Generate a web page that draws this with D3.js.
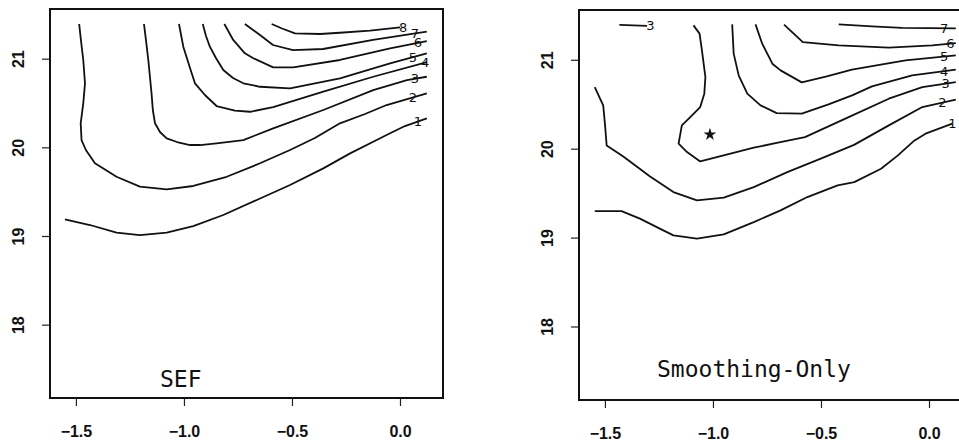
<!DOCTYPE html>
<html>
<head>
<meta charset="utf-8">
<script src="https://cdn.jsdelivr.net/npm/d3@7"></script>
<style>
  body { margin: 0; background: #fff; }
  .tick text { font-family: "Liberation Sans", Arial, sans-serif; font-weight: bold; font-size: 16px; fill: #111; }
  .lvl { font-family: "DejaVu Sans", sans-serif; font-size: 13px; fill: #111; }
  .title { font-family: "DejaVu Sans Mono", monospace; font-size: 23px; fill: #111; }
</style>
</head>
<body>
<svg id="chart" width="959" height="444"></svg>
<script>
// axis ticks
const xTicks = [-1.5, -1.0, -0.5, 0.0];
const yTicks = [18, 19, 20, 21];

// SEF panel, contour levels 1..8 ([x, y] points)
const sef1 = [[-1.551,19.188],[-1.435,19.124],[-1.312,19.037],[-1.204,19.011],[-1.080,19.037],[-0.957,19.112],[-0.818,19.237],[-0.663,19.406],[-0.509,19.575],[-0.355,19.763],[-0.231,19.932],[-0.108,20.082],[-0.046,20.158],[0.023,20.240],[0.124,20.327]];
const sef2 = [[-1.485,21.391],[-1.477,21.211],[-1.466,20.985],[-1.458,20.722],[-1.466,20.496],[-1.478,20.271],[-1.474,20.082],[-1.454,19.970],[-1.412,19.820],[-1.312,19.668],[-1.204,19.556],[-1.080,19.526],[-0.957,19.564],[-0.802,19.668],[-0.648,19.820],[-0.509,19.970],[-0.394,20.105],[-0.278,20.271],[-0.162,20.376],[-0.062,20.477],[0.124,20.609]];
const sef3 = [[-1.185,21.391],[-1.176,21.211],[-1.165,20.985],[-1.150,20.609],[-1.144,20.421],[-1.134,20.271],[-1.111,20.173],[-1.080,20.101],[-1.032,20.060],[-0.972,20.026],[-0.926,20.026],[-0.849,20.045],[-0.725,20.082],[-0.587,20.214],[-0.355,20.421],[-0.124,20.646],[0.032,20.759],[0.124,20.796]];
const sef4 = [[-1.023,21.391],[-1.003,21.135],[-0.972,20.894],[-0.949,20.722],[-0.903,20.590],[-0.849,20.466],[-0.764,20.415],[-0.694,20.401],[-0.587,20.454],[-0.355,20.627],[-0.124,20.796],[0.125,20.962]];
const sef5 = [[-0.913,21.391],[-0.898,21.255],[-0.880,21.135],[-0.852,21.007],[-0.818,20.872],[-0.773,20.782],[-0.725,20.722],[-0.648,20.683],[-0.509,20.665],[-0.278,20.778],[-0.046,20.947],[0.124,21.060]];
const sef6 = [[-0.813,21.391],[-0.772,21.211],[-0.718,21.060],[-0.681,21.007],[-0.587,20.902],[-0.494,20.902],[-0.278,20.985],[-0.046,21.117],[0.124,21.199]];
const sef7 = [[-0.718,21.391],[-0.648,21.266],[-0.588,21.154],[-0.495,21.097],[-0.356,21.109],[-0.125,21.211],[0.124,21.304]];
const sef8 = [[-0.594,21.391],[-0.546,21.340],[-0.486,21.286],[-0.370,21.278],[-0.278,21.292],[-0.139,21.317],[0.0,21.353]];
const sefLabelX = [0.083, 0.060, 0.069, 0.116, 0.060, 0.083, 0.069, 0.014];

// Smoothing-Only panel, contour levels 1..7 plus a short extra piece of level 3
const smo1 = [[-1.547,19.298],[-1.423,19.298],[-1.338,19.213],[-1.260,19.118],[-1.183,19.025],[-1.074,18.988],[-0.950,19.036],[-0.811,19.174],[-0.687,19.306],[-0.563,19.456],[-0.423,19.587],[-0.346,19.624],[-0.222,19.775],[-0.144,19.925],[-0.067,20.093],[-0.016,20.169],[0.108,20.281]];
const smo2 = [[-1.547,20.693],[-1.508,20.487],[-1.500,20.281],[-1.492,20.037],[-1.415,19.913],[-1.291,19.688],[-1.183,19.512],[-1.074,19.418],[-0.950,19.449],[-0.811,19.568],[-0.656,19.737],[-0.501,19.888],[-0.347,20.043],[-0.186,20.262],[-0.031,20.468],[0.124,20.551]];
const smo3 = [[-1.090,21.387],[-1.062,21.294],[-1.051,21.106],[-1.035,20.805],[-1.040,20.619],[-1.059,20.468],[-1.105,20.355],[-1.144,20.262],[-1.159,20.056],[-1.120,19.962],[-1.059,19.857],[-0.919,19.944],[-0.811,20.011],[-0.705,20.065],[-0.574,20.130],[-0.372,20.355],[-0.186,20.562],[-0.031,20.693],[0.124,20.749]];
const smo3b = [[-1.433,21.393],[-1.305,21.381]];
const smo4 = [[-0.911,21.398],[-0.904,21.069],[-0.881,20.825],[-0.841,20.619],[-0.780,20.487],[-0.705,20.400],[-0.589,20.394],[-0.465,20.498],[-0.356,20.600],[-0.264,20.701],[-0.078,20.825],[0.124,20.889]];
const smo5 = [[-0.803,21.398],[-0.772,21.181],[-0.725,20.956],[-0.687,20.881],[-0.589,20.746],[-0.473,20.813],[-0.357,20.889],[-0.109,20.993],[0.124,21.049]];
const smo6 = [[-0.671,21.395],[-0.584,21.199],[-0.418,21.162],[-0.186,21.136],[0.015,21.162],[0.124,21.188]];
const smo7 = [[-0.418,21.398],[-0.264,21.376],[-0.124,21.359],[0.124,21.353]];
const smoLabelX = [0.108, 0.062, 0.077, 0.070, 0.070, 0.099, 0.070];
const smo3bLabelX = -1.29;
const smoStar = [-1.014, 20.159];

const svg = d3.select('#chart');

// both panels share the same data window
const xDomain = [-1.620, 0.199];
const yDomain = [17.173, 21.560];

// Function to find y on a contour at a given x (for placing level labels)
function yAt(pts, x){
    if(x <= pts[0][0]) return pts[0][1];
    for(let i=1; i<pts.length; i++){
        if(x <= pts[i][0]){
            let t = (x-pts[i-1][0])/(pts[i][0]-pts[i-1][0]);
            return pts[i-1][1] + t*(pts[i][1]-pts[i-1][1]);
        }
    }
    return pts[pts.length-1][1];
}

// Function to draw one panel
function drawPanel(p){
    const g = svg.append('g').attr('transform', `translate(${p.left},${p.top})`);
    const x = d3.scaleLinear().domain(xDomain).range([0, p.w]);
    const y = d3.scaleLinear().domain(yDomain).range([p.h, 0]);

    // axes
    const xa = g.append('g').attr('transform', `translate(0,${p.h})`)
        .call(d3.axisBottom(x).tickValues(xTicks).tickFormat(d3.format('.1f')).tickSize(8).tickSizeOuter(0));
    xa.select('.domain').remove();
    xa.selectAll('line').attr('stroke', '#222').attr('stroke-width', 1.2);
    xa.selectAll('text').attr('y', 39).attr('dy', 0);

    const ya = g.append('g')
        .call(d3.axisLeft(y).tickValues(yTicks).tickFormat(d3.format('d')).tickSize(8).tickSizeOuter(0));
    ya.select('.domain').remove();
    ya.selectAll('line').attr('stroke', '#222').attr('stroke-width', 1.2);
    ya.selectAll('text')
        .attr('transform', 'rotate(-90)')
        .attr('x', 0).attr('y', -26).attr('dy', 0)
        .attr('text-anchor', 'middle');

    // frame
    g.append('rect').attr('x', 0).attr('y', 0).attr('width', p.w).attr('height', p.h)
        .attr('fill', 'none').attr('stroke', '#111').attr('stroke-width', 2);

    // contours
    const line = d3.line().x(d => x(d[0])).y(d => y(d[1]));
    g.selectAll('path.contour').data(p.lines).enter().append('path')
        .attr('class', 'contour')
        .attr('d', d => line(d.pts))
        .attr('fill', 'none').attr('stroke', '#111').attr('stroke-width', 1.8)
        .attr('stroke-linejoin', 'round');

    // level labels
    g.selectAll('text.lvl').data(p.lines.filter(d => d.lx !== undefined)).enter().append('text')
        .attr('class', 'lvl')
        .attr('x', d => x(d.lx))
        .attr('y', d => y(yAt(d.pts, d.lx)))
        .attr('dy', '0.35em')
        .attr('text-anchor', 'middle')
        .text(d => d.level);

    // panel title
    g.append('text').attr('class', 'title')
        .attr('x', p.titleX).attr('y', p.titleY)
        .text(p.title);

    if(p.star){
        g.append('path')
            .attr('d', d3.symbol(d3.symbolStar, 50)())
            .attr('transform', `translate(${x(p.star[0])},${y(p.star[1])})`)
            .attr('fill', '#111');
    }
}

const sefLines = [sef1, sef2, sef3, sef4, sef5, sef6, sef7, sef8]
    .map((pts, i) => ({pts: pts, level: i+1, lx: sefLabelX[i]}));
const smoLines = [smo1, smo2, smo3, smo4, smo5, smo6, smo7]
    .map((pts, i) => ({pts: pts, level: i+1, lx: smoLabelX[i]}));
smoLines.push({pts: smo3b, level: 3, lx: smo3bLabelX});

drawPanel({left: 50, top: 9, w: 393, h: 389, lines: sefLines, title: 'SEF', titleX: 110, titleY: 378});
drawPanel({left: 579, top: 10, w: 393, h: 390, lines: smoLines, title: 'Smoothing-Only', titleX: 78, titleY: 367, star: smoStar});
</script>
</body>
</html>
